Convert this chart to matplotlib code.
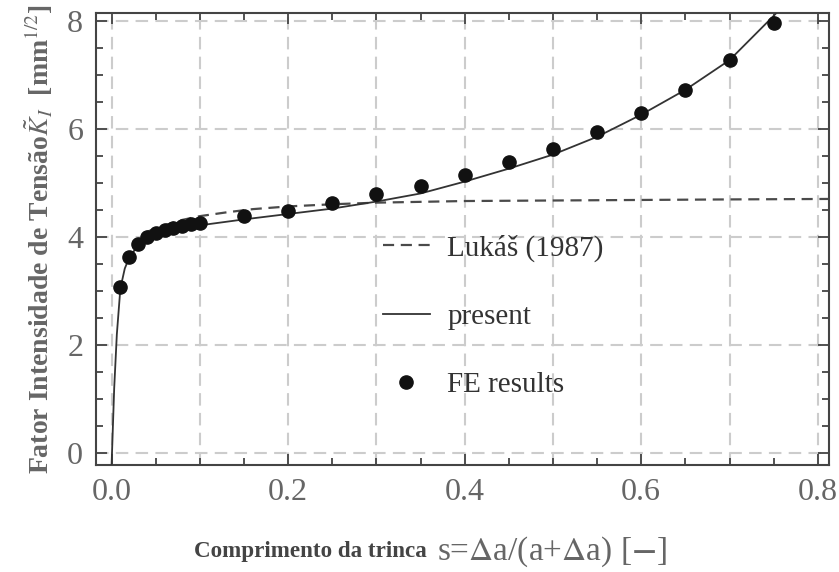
import matplotlib
matplotlib.use('Agg')
import matplotlib.pyplot as plt
from matplotlib.ticker import MultipleLocator, FormatStrFormatter

# FE results (dots)
fe_s = [0.01, 0.02, 0.03, 0.04, 0.05, 0.06, 0.07, 0.08, 0.09, 0.10,
        0.15, 0.20, 0.25, 0.30, 0.35, 0.40, 0.45, 0.50, 0.55, 0.60,
        0.65, 0.70, 0.75]
fe_k = [3.08, 3.63, 3.88, 4.00, 4.07, 4.13, 4.17, 4.21, 4.24, 4.27,
        4.40, 4.49, 4.64, 4.80, 4.94, 5.16, 5.39, 5.64, 5.95, 6.30,
        6.73, 7.28, 7.97]

# present (solid curve)
pr_s = [0.0, 0.003, 0.006, 0.01, 0.015, 0.02, 0.03, 0.04, 0.05, 0.07,
        0.10, 0.15, 0.20, 0.25, 0.30, 0.35, 0.40, 0.45, 0.50, 0.55,
        0.60, 0.65, 0.70, 0.75, 0.76]
pr_k = [-0.25, 1.2, 2.2, 3.05, 3.42, 3.62, 3.85, 3.97, 4.05, 4.14,
        4.22, 4.33, 4.43, 4.53, 4.66, 4.81, 5.03, 5.27, 5.53, 5.86,
        6.27, 6.73, 7.28, 8.10, 8.28]

# Lukas (1987) (dashed curve)
lk_s = [0.04, 0.06, 0.08, 0.10, 0.13, 0.16, 0.20, 0.25, 0.30, 0.40,
        0.50, 0.60, 0.70, 0.83]
lk_k = [4.10, 4.22, 4.32, 4.39, 4.46, 4.52, 4.57, 4.61, 4.64, 4.67,
        4.68, 4.69, 4.70, 4.71]

grid_x = [0.0, 0.1, 0.2, 0.3, 0.4, 0.5, 0.6, 0.7, 0.8]
grid_y = [0, 2, 4, 6, 8]

plt.rcParams['font.family'] = ['Liberation Serif', 'DejaVu Serif']
plt.rcParams['mathtext.fontset'] = 'stix'

fig = plt.figure(figsize=(8.39, 5.72), dpi=100)
ax = fig.add_axes([0.114, 0.187, 0.874, 0.790])

#grid drawn by hand, 0.1 steps on x but ticks on 0.2
for gx in grid_x:
    ax.axvline(gx, color='#cccccc', lw=1.5, dashes=(6, 3.5), zorder=0)
for gy in grid_y:
    ax.axhline(gy, color='#cccccc', lw=1.5, dashes=(6, 3.5), zorder=0)

ax.plot(lk_s, lk_k, color='#4a4a4a', lw=1.6, dashes=(5, 3), label='Lukáš (1987)', zorder=2)
ax.plot(pr_s, pr_k, color='#333333', lw=1.3, label='present', zorder=3)
ax.plot(fe_s, fe_k, 'o', color='#111111', ms=9.5, label='FE results', zorder=4)

ax.set_xlim(-0.018, 0.8126)
ax.set_ylim(-0.22, 8.15)

ax.xaxis.set_major_locator(MultipleLocator(0.2))
ax.xaxis.set_minor_locator(MultipleLocator(0.05))
ax.yaxis.set_major_locator(MultipleLocator(2))
ax.yaxis.set_minor_locator(MultipleLocator(0.5))
ax.xaxis.set_major_formatter(FormatStrFormatter('%.1f'))

ax.tick_params(which='both', direction='in', top=True, right=True, colors='#444444', width=1.3)
ax.tick_params(which='major', length=8, labelsize=23, labelcolor='#666666', pad=9)
ax.tick_params(which='minor', length=5)
for sp in ax.spines.values():
    sp.set_color('#444444')
    sp.set_linewidth(1.5)

ax.set_ylabel(r'Fator Intensidade de Tensão$\tilde{K}_I$  [mm$^{1/2}$]',
              fontsize=20, color='#666666', fontweight='bold')
ax.yaxis.set_label_coords(-0.056, 0.5)

leg = ax.legend(loc='upper left', bbox_to_anchor=(0.392, 0.51), frameon=False,
                fontsize=21, handlelength=1.6, handletextpad=0.6, labelspacing=1.43,
                borderpad=0, borderaxespad=0)
for t in leg.get_texts():
    t.set_color('#333333')

fig.text(0.509, 0.035, 'Comprimento da trinca', ha='right', va='center',
         fontsize=16.6, fontweight='bold', color='#444444')
fig.text(0.521, 0.035, r's=$\Delta$a/(a+$\Delta$a) [$\mathbf{-}$]', ha='left', va='center',
         fontsize=24, color='#666666')

fig.savefig('out.png', dpi=100)
